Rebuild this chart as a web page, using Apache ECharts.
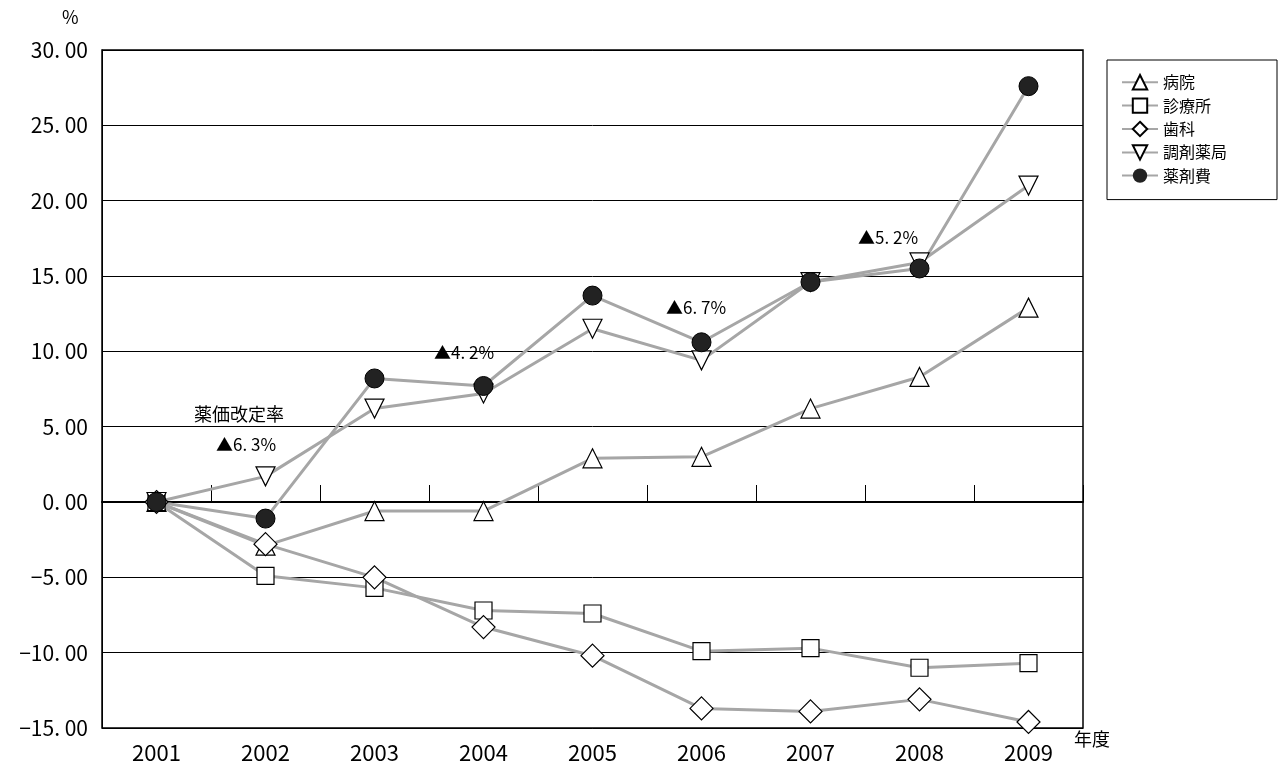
<!DOCTYPE html>
<html lang="ja">
<head>
<meta charset="UTF-8">
<title>薬剤費の伸び率</title>
<script src="https://cdn.jsdelivr.net/npm/echarts@6/dist/echarts.min.js"></script>
</head>
<body style="margin:0">
<div id="main" style="width:1280px;height:780px"></div>
<script type="text/javascript">
    var years = ['2001', '2002', '2003', '2004', '2005', '2006', '2007', '2008', '2009'];
    var hospital = [0, -2.9, -0.6, -0.6, 2.9, 3.0, 6.2, 8.3, 12.9];
    var clinic = [0, -4.9, -5.7, -7.2, -7.4, -9.9, -9.7, -11.0, -10.7];
    var dental = [0, -2.8, -5.0, -8.3, -10.2, -13.7, -13.9, -13.1, -14.6];
    var pharmacy = [0, 1.7, 6.2, 7.2, 11.5, 9.4, 14.6, 15.9, 21.0];
    var drugCost = [0, -1.1, 8.2, 7.7, 13.7, 10.6, 14.6, 15.5, 27.6];

    var font = '"Noto Sans CJK JP", sans-serif';
    var grey = '#a6a6a6';

    function series(name, data, symbol, opts) {
        var s = {
            name: name, type: 'line', data: data, xAxisIndex: 0,
            symbol: symbol, symbolSize: 19,
            lineStyle: {color: grey, width: 3},
            itemStyle: {color: '#fff', borderColor: '#000', borderWidth: 1.2},
            z: 3
        };
        for (var k in opts) s[k] = opts[k];
        return s;
    }

    var myChart = echarts.init(document.getElementById('main'));
    var option = {
        backgroundColor: '#fff',
        textStyle: {fontFamily: font},
        grid: {left: 102, right: 197, top: 50, bottom: 52, show: true, borderColor: '#000', borderWidth: 1.5},
        legend: {
            orient: 'vertical', left: 1107, top: 60,
            padding: [14, 50, 16, 14],
            borderColor: '#000', borderWidth: 1,
            itemWidth: 36, itemHeight: 18, itemGap: 7,
            textStyle: {fontSize: 16, color: '#000', fontFamily: font},
            data: ['病院', '診療所', '歯科', '調剤薬局', '薬剤費']
        },
        xAxis: [{
            type: 'category', data: years, boundaryGap: true,
            axisLine: {onZero: true, lineStyle: {color: '#000', width: 2}},
            axisTick: {show: true, interval: 0, inside: true, length: 17, lineStyle: {color: '#000', width: 1}},
            axisLabel: {show: false}
        }, {
            type: 'category', data: years, boundaryGap: true, position: 'bottom',
            axisLine: {show: false}, axisTick: {show: false},
            axisLabel: {fontSize: 22, color: '#000', margin: 14, fontFamily: font}
        }],
        yAxis: {
            type: 'value', min: -15, max: 30, interval: 5,
            axisLine: {show: true, lineStyle: {color: '#000'}},
            axisTick: {show: false},
            splitLine: {lineStyle: {color: '#000', width: 1}},
            axisLabel: {
                fontSize: 21, color: '#000', margin: 14, fontFamily: font,
                formatter: function (v) { return (v < 0 ? '−' : '') + Math.abs(v) + '. 00'; }
            }
        },
        series: [
            series('病院', hospital, 'triangle'),
            series('診療所', clinic, 'rect', {symbolSize: 17}),
            series('歯科', dental, 'diamond', {symbolSize: [23, 23]}),
            series('調剤薬局', pharmacy, 'triangle', {symbolRotate: 180}),
            series('薬剤費', drugCost, 'circle', {itemStyle: {color: '#222', borderColor: '#000'}})
        ],
        graphic: [
            {type: 'text', left: 62, top: 8, style: {text: '%', fill: '#000', font: '18px ' + font}},
            {type: 'text', left: 1074, top: 730, style: {text: '年度', fill: '#000', font: '18px ' + font}},
            {type: 'text', left: 194, top: 405, style: {text: '薬価改定率', fill: '#000', backgroundColor: '#fff', font: '18px ' + font}},
            {type: 'text', left: 216, top: 436, style: {text: '▲6. 3%', fill: '#000', font: '17px ' + font}},
            {type: 'text', left: 434, top: 344, style: {text: '▲4. 2%', fill: '#000', font: '17px ' + font}},
            {type: 'text', left: 666, top: 299, style: {text: '▲6. 7%', fill: '#000', font: '17px ' + font}},
            {type: 'text', left: 858, top: 229, style: {text: '▲5. 2%', fill: '#000', font: '17px ' + font}}
        ]
    };
    myChart.setOption(option);
</script>
</body>
</html>
